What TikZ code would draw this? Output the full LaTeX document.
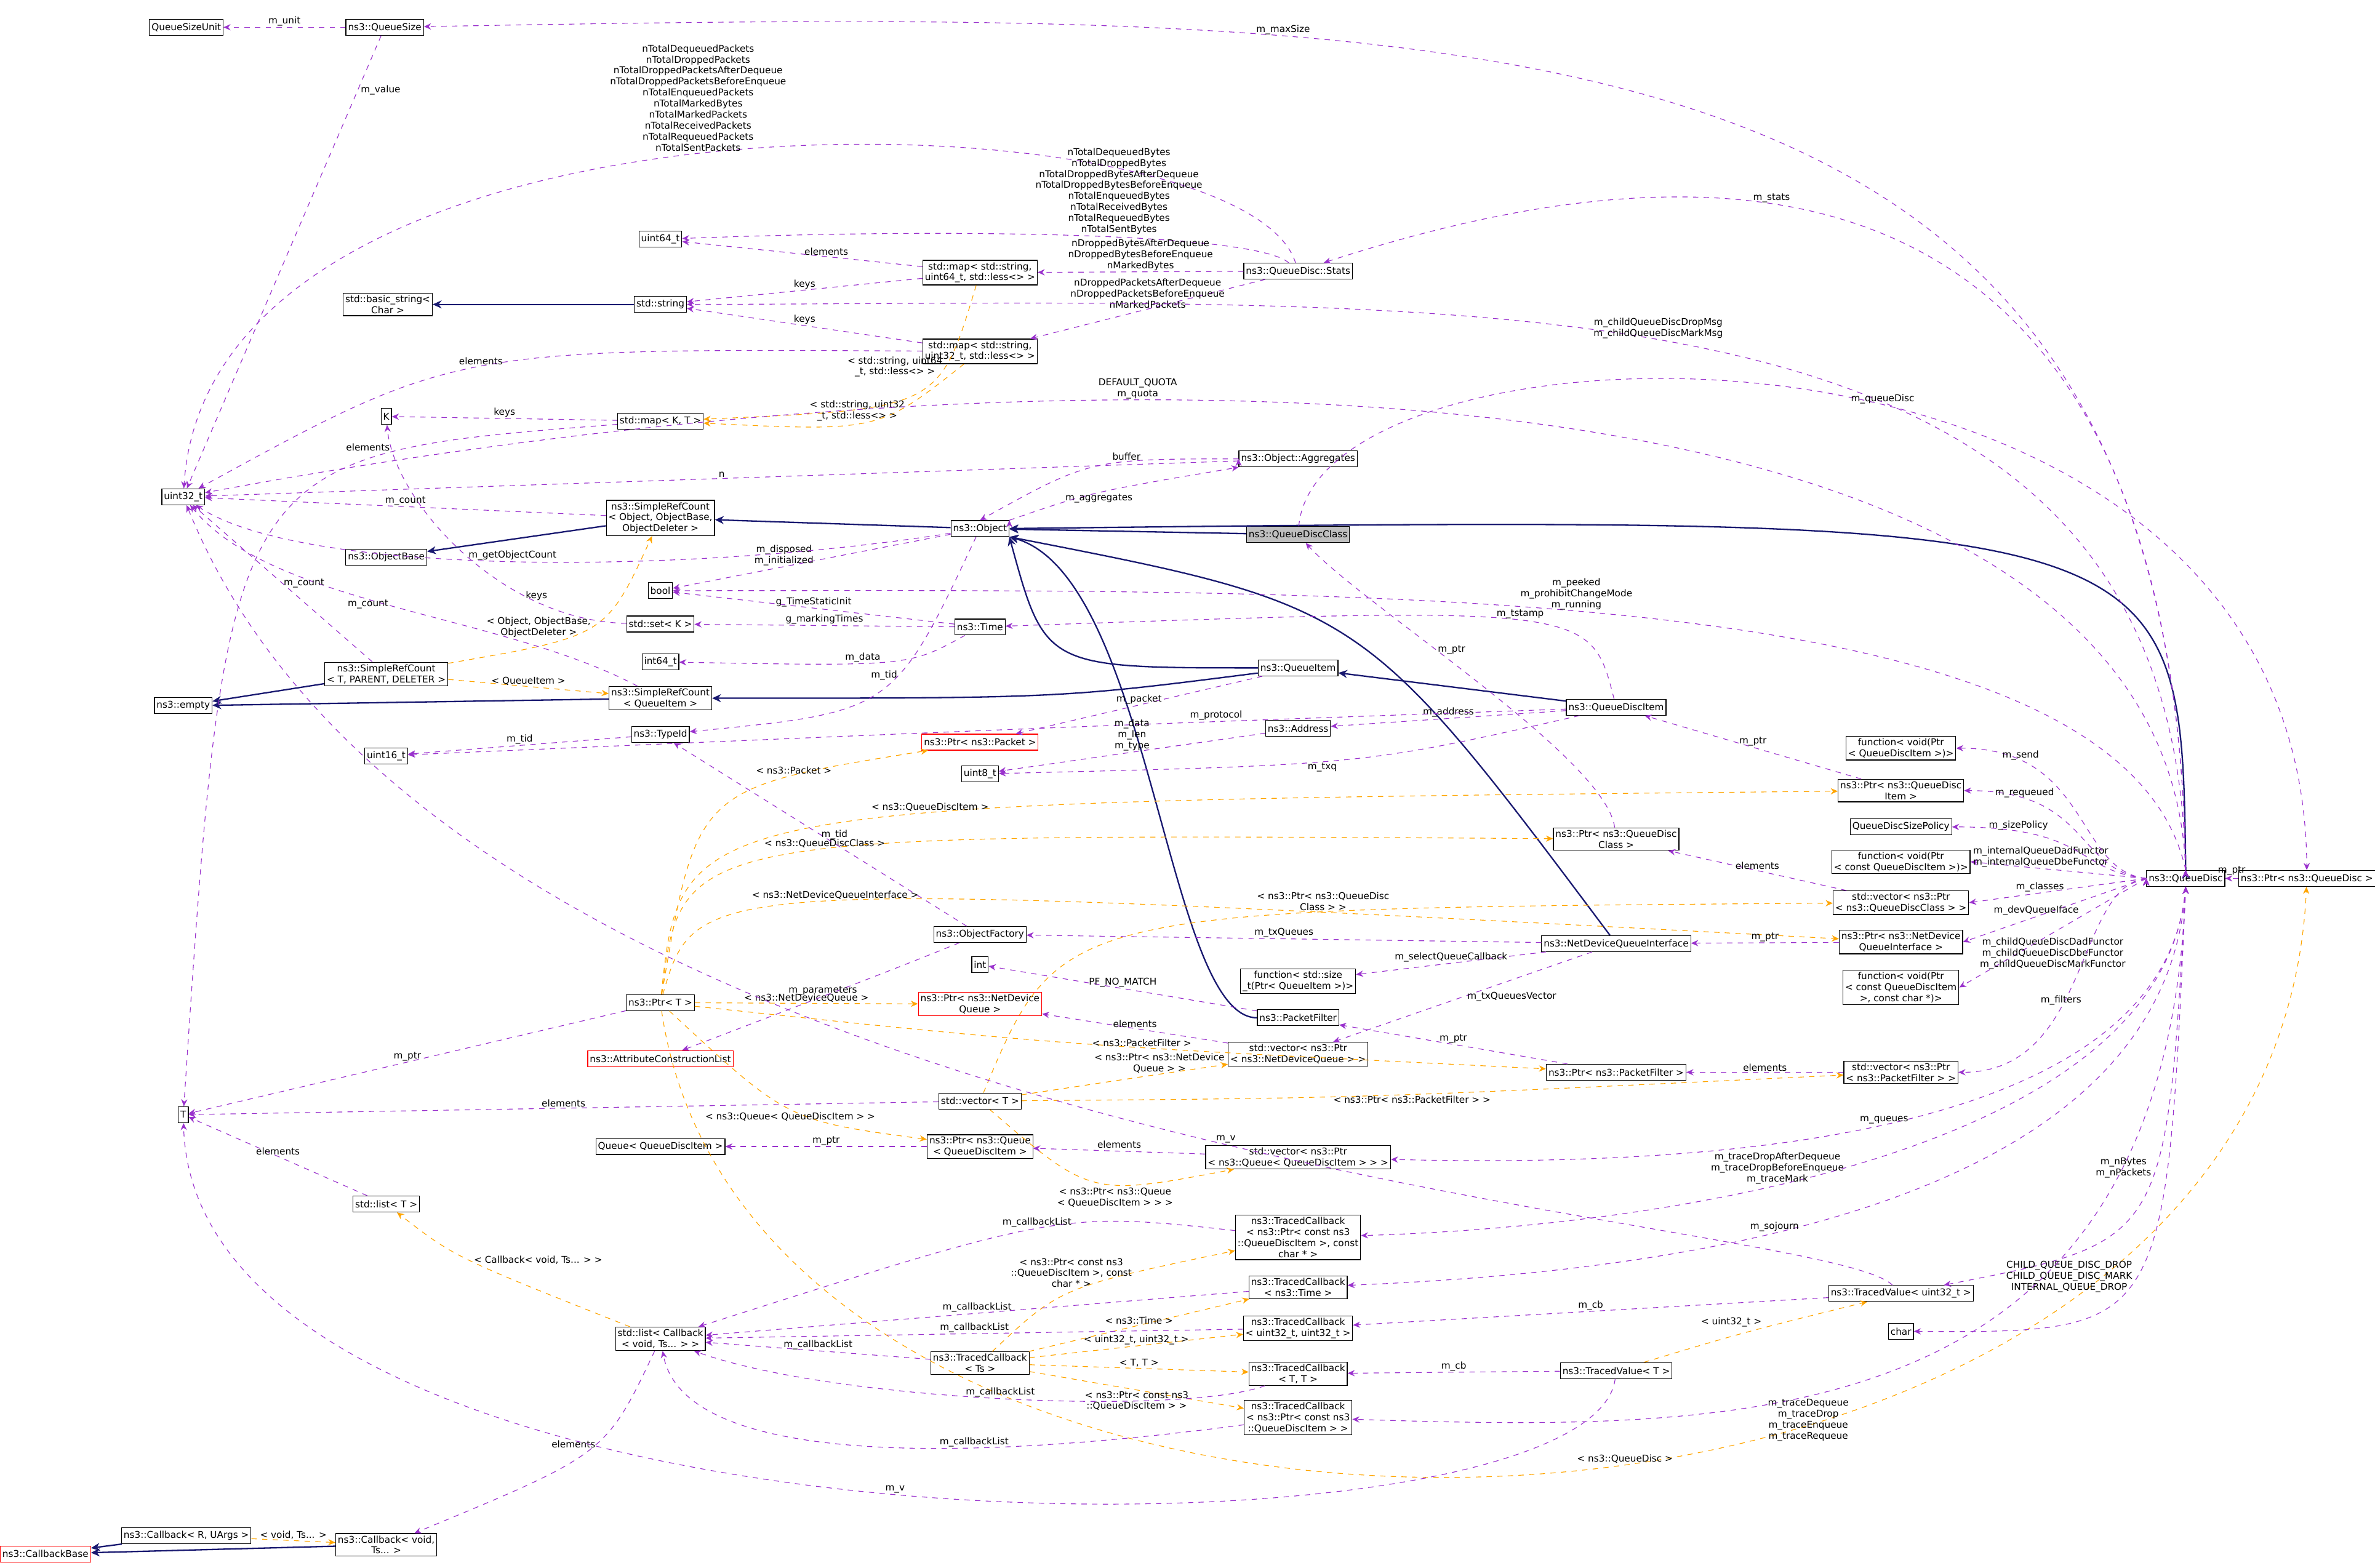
\documentclass[tikz,border=0pt]{standalone}
\usepackage{fontspec}
\setmainfont{DejaVu Sans}
\usetikzlibrary{arrows.meta}
\usetikzlibrary{positioning}
\definecolor{usecol}{HTML}{9A32CD}
\definecolor{tplcol}{HTML}{FFA500}
\definecolor{inhcol}{HTML}{191970}
\tikzset{
  cls/.style={draw=black,rectangle,align=center,inner sep=1.2pt,minimum height=9pt,font=\fontsize{5.3}{6.2}\selectfont,fill=white},
  redcls/.style={cls,draw=red},
  use/.style={draw=usecol,dashed,-{Stealth[length=4pt,width=3.5pt]}},
  tpl/.style={draw=tplcol,dashed,-{Stealth[length=4pt,width=3.5pt]}},
  inh/.style={draw=inhcol,thick,-{Stealth[length=5pt,width=4.5pt]}},
  lbl/.style={align=center,font=\fontsize{5.3}{6.2}\selectfont,inner sep=0.5pt},
  via/.style={to path={.. controls #1 .. (\tikztotarget) \tikztonodes}}
}
\begin{document}
\begin{tikzpicture}[x=0.03cm,y=-0.03cm]
\useasboundingbox (0,0) rectangle (1568,1035);
          \begin{scope}[every node/.style={cls}]
            \node (qsu) at (123,18) {QueueSizeUnit};
            \node (qs) at (254,18) {ns3::QueueSize};
            \node (u64) at (436,158) {uint64\_t};
            \node (bstr) at (256,201) {std::basic\_string\textless\\Char \textgreater};
            \node (str) at (436,201) {std::string};
            \node (m64) at (647,180) {std::map\textless\ std::string,\\uint64\_t, std::less\textless\textgreater\ \textgreater};
            \node (stats) at (857,179) {ns3::QueueDisc::Stats};
            \node (m32) at (647,232) {std::map\textless\ std::string,\\uint32\_t, std::less\textless\textgreater\ \textgreater};
            \node (k) at (255,275) {K};
            \node (mkt) at (436,278) {std::map\textless\ K, T \textgreater};
            \node (aggr) at (857,303) {ns3::Object::Aggregates};
            \node (u32) at (121,328) {uint32\_t};
            \node (srco) at (436,342) {ns3::SimpleRefCount\\\textless\ Object, ObjectBase,\\ObjectDeleter \textgreater};
            \node (obase) at (255,368) {ns3::ObjectBase};
            \node (obj) at (647,349) {ns3::Object};
            \node[fill=black!25] (qdc) at (857,353) {ns3::QueueDiscClass};
            \node (bool) at (436,390) {bool};
            \node (setk) at (436,412) {std::set\textless\ K \textgreater};
            \node (time) at (647,414) {ns3::Time};
            \node (i64) at (436,437) {int64\_t};
            \node (qi) at (857,441) {ns3::QueueItem};
            \node (srct) at (255,445) {ns3::SimpleRefCount\\\textless\ T, PARENT, DELETER \textgreater};
            \node (srcq) at (436,461) {ns3::SimpleRefCount\\\textless\ QueueItem \textgreater};
            \node (empty) at (121,466) {ns3::empty};
            \node (qdi) at (1067,467) {ns3::QueueDiscItem};
            \node (addr) at (857,481) {ns3::Address};
            \node (tid) at (436,485) {ns3::TypeId};
            \node[redcls] (ppkt) at (647,490) {ns3::Ptr\textless\ ns3::Packet \textgreater};
            \node (u16) at (255,499) {uint16\_t};
            \node (u8) at (647,511) {uint8\_t};
            \node (fsend) at (1255,494) {function\textless\ void(Ptr\\\textless\ QueueDiscItem \textgreater)\textgreater};
            \node (pqdi) at (1255,522) {ns3::Ptr\textless\ ns3::QueueDisc\\Item \textgreater};
            \node (qdsp) at (1255,546) {QueueDiscSizePolicy};
            \node (pqdc) at (1067,554) {ns3::Ptr\textless\ ns3::QueueDisc\\Class \textgreater};
            \node (fint) at (1255,569) {function\textless\ void(Ptr\\\textless\ const QueueDiscItem \textgreater)\textgreater};
            \node (vqdc) at (1255,596) {std::vector\textless\ ns3::Ptr\\\textless\ ns3::QueueDiscClass \textgreater\ \textgreater};
            \node (qd) at (1443,580) {ns3::QueueDisc};
            \node (pqd) at (1523,580) {ns3::Ptr\textless\ ns3::QueueDisc \textgreater};
            \node (ofac) at (647,617) {ns3::ObjectFactory};
            \node (ndqi) at (1067,623) {ns3::NetDeviceQueueInterface};
            \node (pndqi) at (1255,622) {ns3::Ptr\textless\ ns3::NetDevice\\QueueInterface \textgreater};
            \node (int) at (647,637) {int};
            \node (fsize) at (857,648) {function\textless\ std::size\\\_t(Ptr\textless\ QueueItem \textgreater)\textgreater};
            \node (fchild) at (1255,652) {function\textless\ void(Ptr\\\textless\ const QueueDiscItem\\\textgreater, const char *)\textgreater};
            \node (ptrt) at (436,662) {ns3::Ptr\textless\ T \textgreater};
            \node[redcls] (pndq) at (647,663) {ns3::Ptr\textless\ ns3::NetDevice\\Queue \textgreater};
            \node (pf) at (857,672) {ns3::PacketFilter};
            \node (vndq) at (857,696) {std::vector\textless\ ns3::Ptr\\\textless\ ns3::NetDeviceQueue \textgreater\ \textgreater};
            \node[redcls] (acl) at (436,699) {ns3::AttributeConstructionList};
            \node (ppf) at (1067,708) {ns3::Ptr\textless\ ns3::PacketFilter \textgreater};
            \node (vpf) at (1255,708) {std::vector\textless\ ns3::Ptr\\\textless\ ns3::PacketFilter \textgreater\ \textgreater};
            \node (vect) at (647,727) {std::vector\textless\ T \textgreater};
            \node (t) at (121,736) {T};
            \node (qq) at (436,757) {Queue\textless\ QueueDiscItem \textgreater};
            \node (pq) at (647,757) {ns3::Ptr\textless\ ns3::Queue\\\textless\ QueueDiscItem \textgreater};
            \node (vq) at (857,764) {std::vector\textless\ ns3::Ptr\\\textless\ ns3::Queue\textless\ QueueDiscItem \textgreater\ \textgreater\ \textgreater};
            \node (listt) at (255,795) {std::list\textless\ T \textgreater};
            \node (tcdrop) at (857,817) {ns3::TracedCallback\\\textless\ ns3::Ptr\textless\ const ns3\\::QueueDiscItem \textgreater, const\\char * \textgreater};
            \node (tctime) at (857,850) {ns3::TracedCallback\\\textless\ ns3::Time \textgreater};
            \node (tvu) at (1255,854) {ns3::TracedValue\textless\ uint32\_t \textgreater};
            \node (tcuu) at (857,877) {ns3::TracedCallback\\\textless\ uint32\_t, uint32\_t \textgreater};
            \node (char) at (1255,879) {char};
            \node (listcb) at (436,884) {std::list\textless\ Callback\\\textless\ void, Ts... \textgreater\ \textgreater};
            \node (tcts) at (647,900) {ns3::TracedCallback\\\textless\ Ts \textgreater};
            \node (tctt) at (857,907) {ns3::TracedCallback\\\textless\ T, T \textgreater};
            \node (tvt) at (1067,905) {ns3::TracedValue\textless\ T \textgreater};
            \node (tcqdi) at (857,936) {ns3::TracedCallback\\\textless\ ns3::Ptr\textless\ const ns3\\::QueueDiscItem \textgreater\ \textgreater};
            \node (cbru) at (123,1014) {ns3::Callback\textless\ R, UArgs \textgreater};
            \node (cbv) at (255,1020) {ns3::Callback\textless\ void,\\Ts... \textgreater};
            \node[redcls] (cbb) at (30,1026) {ns3::CallbackBase};
          \end{scope}
          % inheritance
          \begin{scope}[every path/.style={inh}]
            \path (str) edge (bstr);
            \path (srco) edge (obase);
            \path (obj) edge (srco);
            \path (qdc) edge (obj);
            \path (qd.north) edge[via={(1440,340)}] (obj.east);
            \path (qi) edge[via={(690,441)}] (obj.south east);
            \path (ndqi) edge[via={(900,400)}] (obj.south east);
            \path (pf) edge[via={(770,672) and (760,380)}] (obj.south east);
            \path (qdi) edge (qi);
            \path (qi) edge[via={(700,461)}] (srcq);
            \path (srcq) edge (empty);
            \path (srct) edge (empty);
            \path (cbv) edge (cbb);
            \path (cbru) edge (cbb);
          \end{scope}
          % templates
          \begin{scope}[every path/.style={tpl}]
            \path (m64) edge[via={(620,270)}] node[lbl,pos=0.3,left=1pt] {\textless\ std::string, uint64\\\_t, std::less\textless\textgreater\ \textgreater} (mkt);
            \path (m32) edge[via={(580,285)}] node[lbl,pos=0.55,above=1pt] {\textless\ std::string, uint32\\\_t, std::less\textless\textgreater\ \textgreater} (mkt);
            \path (srct) edge[via={(400,420)}] node[lbl,pos=0.5,left=0pt] {\textless\ Object, ObjectBase,\\ObjectDeleter \textgreater} (srco);
            \path (srct) edge node[lbl,pos=0.5,above=0pt] {\textless\ QueueItem \textgreater} (srcq);
            \path (ptrt) edge[via={(460,520)}] node[lbl,pos=0.75,above=0pt] {\textless\ ns3::Packet \textgreater} (ppkt);
            \path (ptrt) edge[via={(450,530)}] node[lbl,pos=0.6,above=0pt] {\textless\ ns3::QueueDiscItem \textgreater} (pqdi);
            \path (ptrt) edge[via={(450,550)}] node[lbl,pos=0.55,above=0pt] {\textless\ ns3::QueueDiscClass \textgreater} (pqdc);
            \path (ptrt) edge[via={(460,580)}] node[lbl,pos=0.5,above=0pt] {\textless\ ns3::NetDeviceQueueInterface \textgreater} (pndqi);
            \path (ptrt) edge node[lbl,above=0pt] {\textless\ ns3::NetDeviceQueue \textgreater} (pndq);
            \path (ptrt) edge[via={(700,690)}] node[lbl,pos=0.6,above=0pt] {\textless\ ns3::PacketFilter \textgreater} (ppf);
            \path (ptrt) edge[via={(520,740)}] node[lbl,pos=0.5,below=1pt] {\textless\ ns3::Queue\textless\ QueueDiscItem \textgreater\ \textgreater} (pq);
            \path (ptrt) edge[via={(500,1100) and (1500,1080)}] node[lbl,pos=0.55,above=0pt] {\textless\ ns3::QueueDisc \textgreater} (pqd);
            \path (vect) edge[via={(760,710)}] node[lbl,pos=0.6,above=0pt] {\textless\ ns3::Ptr\textless\ ns3::NetDevice\\Queue \textgreater\ \textgreater} (vndq);
            \path (vect) edge[via={(900,725)}] node[lbl,pos=0.55,below=0pt] {\textless\ ns3::Ptr\textless\ ns3::PacketFilter \textgreater\ \textgreater} (vpf);
            \path (vect) edge[via={(700,600)}] node[lbl,pos=0.7,above=0pt] {\textless\ ns3::Ptr\textless\ ns3::QueueDisc\\Class \textgreater\ \textgreater} (vqdc);
            \path (vect) edge[via={(720,790)}] node[lbl,pos=0.6,below=1pt] {\textless\ ns3::Ptr\textless\ ns3::Queue\\\textless\ QueueDiscItem \textgreater\ \textgreater\ \textgreater} (vq);
            \path (listcb) edge[via={(300,830)}] node[lbl,pos=0.5,right=2pt] {\textless\ Callback\textless\ void, Ts... \textgreater\ \textgreater} (listt);
            \path (tcts) edge[via={(700,850)}] node[lbl,pos=0.75,left=0pt] {\textless\ ns3::Ptr\textless\ const ns3\\::QueueDiscItem \textgreater, const\\char * \textgreater} (tcdrop);
            \path (tcts) edge node[lbl,pos=0.5,above=0pt] {\textless\ ns3::Time \textgreater} (tctime);
            \path (tcts) edge node[lbl,pos=0.5,above=0pt] {\textless\ uint32\_t, uint32\_t \textgreater} (tcuu);
            \path (tcts) edge node[lbl,pos=0.5,above=0pt] {\textless\ T, T \textgreater} (tctt);
            \path (tcts) edge node[lbl,pos=0.5,below=0pt] {\textless\ ns3::Ptr\textless\ const ns3\\::QueueDiscItem \textgreater\ \textgreater} (tcqdi);
            \path (tvt) edge[via={(1150,880)}] node[lbl,pos=0.6,above left=0pt] {\textless\ uint32\_t \textgreater} (tvu);
            \path (cbru) edge node[lbl,pos=0.5,above=0pt] {\textless\ void, Ts... \textgreater} (cbv);
          \end{scope}
          % members
          \begin{scope}[every path/.style={use}]
            \path (qs) edge node[lbl,above=0pt] {m\_unit} (qsu);
            \path (qs) edge node[lbl,pos=0.12,right=1pt] {m\_value} (u32);
            \path (qd.north) edge[via={(1435,0) and (1000,5)}] node[lbl,pos=0.7,above=0pt] {m\_maxSize} (qs);
            \path (stats) edge[via={(820,60) and (140,40)}] node[lbl,pos=0.52,above=1pt] {nTotalDequeuedPackets\\nTotalDroppedPackets\\nTotalDroppedPacketsAfterDequeue\\nTotalDroppedPacketsBeforeEnqueue\\nTotalEnqueuedPackets\\nTotalMarkedBytes\\nTotalMarkedPackets\\nTotalReceivedPackets\\nTotalRequeuedPackets\\nTotalSentPackets} (u32);
            \path (stats) edge[via={(830,155) and (650,150)}] node[lbl,pos=0.45,above=1pt] {nTotalDequeuedBytes\\nTotalDroppedBytes\\nTotalDroppedBytesAfterDequeue\\nTotalDroppedBytesBeforeEnqueue\\nTotalEnqueuedBytes\\nTotalReceivedBytes\\nTotalRequeuedBytes\\nTotalSentBytes} (u64);
            \path (m64) edge node[lbl,pos=0.4,above=0pt] {elements} (u64);
            \path (m64) edge node[lbl,pos=0.5,above=0pt] {keys} (str);
            \path (stats) edge node[lbl,pos=0.5,above=0pt] {nDroppedBytesAfterDequeue\\nDroppedBytesBeforeEnqueue\\nMarkedBytes} (m64);
            \path (stats) edge node[lbl,pos=0.5,above=0pt] {nDroppedPacketsAfterDequeue\\nDroppedPacketsBeforeEnqueue\\nMarkedPackets} (m32);
            \path (m32) edge node[lbl,pos=0.5,above=0pt] {keys} (str);
            \path (m32) edge[via={(300,230)}] node[lbl,pos=0.5,above=0pt] {elements} (u32);
            \path (mkt) edge node[lbl,above=0pt] {keys} (k);
            \path (mkt) edge[via={(150,300)}] node[lbl,pos=0.25,above left=0pt] {elements} (t);
            \path (qd.north) edge[via={(1435,60) and (1100,100)}] node[lbl,pos=0.6,above=0pt] {m\_stats} (stats);
            \path (qd.north) edge[via={(1435,170) and (1000,200)}] node[lbl,pos=0.55,above=0pt] {m\_childQueueDiscDropMsg\\m\_childQueueDiscMarkMsg} (str);
            \path (qd.north) edge[via={(1430,220) and (700,220)}] node[lbl,pos=0.65,above=0pt] {DEFAULT\_QUOTA\\m\_quota} (u32);
            \path (aggr) edge node[lbl,pos=0.5,above=0pt] {n} (u32);
            \path (aggr.west) edge[via={(720,303)}] node[lbl,pos=0.35,above=0pt] {buffer} (obj.north);
            \path (obj.north east) edge[via={(720,325)}] node[lbl,pos=0.5,below=0pt] {m\_aggregates} (aggr.south west);
            \path (srco) edge node[lbl,pos=0.5,above=0pt] {m\_count} (u32);
            \path (obj) edge node[lbl,pos=0.6,above=0pt] {m\_disposed\\m\_initialized} (bool);
            \path (obj) edge[via={(450,380) and (200,380)}] node[lbl,pos=0.5,above=0pt] {m\_getObjectCount} (u32);
            \path (qdc) edge[via={(870,200) and (1520,180)}] node[lbl,pos=0.55,above=0pt] {m\_queueDisc} (pqd);
            \path (obj) edge[via={(590,470)}] node[lbl,pos=0.4,left=0pt] {m\_tid} (tid);
            \path (setk) edge[via={(330,410) and (260,330)}] node[lbl,pos=0.25,above=0pt] {keys} (k);
            \path (srcq) edge[via={(330,405) and (180,400)}] node[lbl,pos=0.55,below=0pt] {m\_count} (u32);
            \path (srct) edge node[lbl,pos=0.5,right=0pt] {m\_count} (u32);
            \path (time) edge node[lbl,pos=0.5,above=0pt] {g\_TimeStaticInit} (bool);
            \path (time) edge node[lbl,pos=0.5,above=0pt] {g\_markingTimes} (setk);
            \path (time) edge[via={(600,440)}] node[lbl,pos=0.6,above=0pt] {m\_data} (i64);
            \path (qdi) edge[via={(1050,400)}] node[lbl,pos=0.5,above=0pt] {m\_tstamp} (time);
            \path (qd.north) edge[via={(1400,380) and (900,390)}] node[lbl,pos=0.55,above=0pt] {m\_peeked\\m\_prohibitChangeMode\\m\_running} (bool);
            \path (qi) edge node[lbl,pos=0.5,above=0pt] {m\_packet} (ppkt);
            \path (qdi) edge node[lbl,pos=0.5,above=0pt] {m\_address} (addr);
            \path (qdi) edge[via={(700,480)}] node[lbl,pos=0.3,above=0pt] {m\_protocol} (u16);
            \path (qdi) edge[via={(900,505)}] node[lbl,pos=0.55,below=0pt] {m\_txq} (u8);
            \path (addr) edge node[lbl,pos=0.5,above=0pt] {m\_data\\m\_len\\m\_type} (u8);
            \path (tid) edge node[lbl,pos=0.5,above=0pt] {m\_tid} (u16);
            \path (pqdc) edge[via={(1060,500) and (900,400)}] node[lbl,pos=0.6,right=0pt] {m\_ptr} (qdc);
            \path (pqdi) edge node[lbl,pos=0.5,above=0pt] {m\_ptr} (qdi);
            \path (ptrt) edge node[lbl,pos=0.5,above=0pt] {m\_ptr} (t);
            \path (ofac) edge node[lbl,pos=0.5,right=0pt] {m\_tid} (tid);
            \path (ofac) edge[via={(590,640)}] node[lbl,pos=0.7,above=0pt] {m\_parameters} (acl);
            \path (ndqi) edge node[lbl,pos=0.5,above=0pt] {m\_txQueues} (ofac);
            \path (ndqi) edge node[lbl,pos=0.5,above=0pt] {m\_selectQueueCallback} (fsize);
            \path (ndqi) edge node[lbl,pos=0.5,right=2pt] {m\_txQueuesVector} (vndq);
            \path (pf) edge node[lbl,pos=0.5,above=0pt] {PF\_NO\_MATCH} (int);
            \path (vndq) edge node[lbl,pos=0.5,above=0pt] {elements} (pndq);
            \path (vect) edge node[lbl,pos=0.5,above=0pt] {elements} (t);
            \path (ppf) edge node[lbl,pos=0.5,above=0pt] {m\_ptr} (pf);
            \path (vpf) edge node[lbl,pos=0.5,above=0pt] {elements} (ppf);
            \path (vqdc) edge node[lbl,pos=0.5,above=0pt] {elements} (pqdc);
            \path (pndqi) edge node[lbl,pos=0.5,above=0pt] {m\_ptr} (ndqi);
            \path (qd.west) edge node[lbl,pos=0.6,above=0pt] {m\_devQueueIface} (pndqi.east);
            \path (qd.west) edge node[lbl,pos=0.6,above=0pt] {m\_classes} (vqdc.east);
            \path (qd.west) edge node[lbl,pos=0.6,above=0pt] {m\_internalQueueDadFunctor\\m\_internalQueueDbeFunctor} (fint.east);
            \path (qd.west) edge[via={(1370,575) and (1380,546)}] node[lbl,pos=0.8,above=0pt] {m\_sizePolicy} (qdsp.east);
            \path (qd.west) edge[via={(1370,575) and (1380,522)}] node[lbl,pos=0.8,above=0pt] {m\_requeued} (pqdi.east);
            \path (qd.west) edge[via={(1370,575) and (1380,494)}] node[lbl,pos=0.8,above=0pt] {m\_send} (fsend.east);
            \path (qd.west) edge node[lbl,pos=0.5,below=2pt] {m\_childQueueDiscDadFunctor\\m\_childQueueDiscDbeFunctor\\m\_childQueueDiscMarkFunctor} (fchild.east);
            \path (qd.west) edge[via={(1370,585) and (1380,708)}] node[lbl,pos=0.6,above=0pt] {m\_filters} (vpf.east);
            \path (qd.south) edge[via={(1430,760) and (1100,770)}] node[lbl,pos=0.5,above=0pt] {m\_queues} (vq);
            \path (vq) edge node[lbl,pos=0.5,above=1pt] {elements} (pq);
            \path (pq) edge node[lbl,pos=0.5,above=0pt] {m\_ptr} (qq);
            \path (pqd) edge node[lbl,pos=0.5,above=1pt] {m\_ptr} (qd);
            \path (qd.south) edge[via={(1430,760) and (1100,810)}] node[lbl,pos=0.6,above=0pt] {m\_traceDropAfterDequeue\\m\_traceDropBeforeEnqueue\\m\_traceMark} (tcdrop);
            \path (qd.south) edge[via={(1430,800) and (1100,840)}] node[lbl,pos=0.6,above=0pt] {m\_sojourn} (tctime);
            \path (qd.south) edge[via={(1430,820)}] node[lbl,pos=0.4,left=2pt] {m\_nBytes\\m\_nPackets} (tvu);
            \path (qd.south) edge[via={(1430,880)}] node[lbl,pos=0.5,left=2pt] {CHILD\_QUEUE\_DISC\_DROP\\CHILD\_QUEUE\_DISC\_MARK\\INTERNAL\_QUEUE\_DROP} (char);
            \path (qd.south) edge[via={(1430,950) and (1150,945)}] node[lbl,pos=0.6,below=1pt] {m\_traceDequeue\\m\_traceDrop\\m\_traceEnqueue\\m\_traceRequeue} (tcqdi);
            \path (tvu) edge[via={(1200,800) and (300,770)}] node[lbl,pos=0.45,above=0pt] {m\_v} (u32);
            \path (tvu) edge node[lbl,pos=0.5,above=0pt] {m\_cb} (tcuu);
            \path (tvt) edge node[lbl,pos=0.5,above=0pt] {m\_cb} (tctt);
            \path (tvt) edge[via={(1050,1040) and (130,1040)}] node[lbl,pos=0.5,above=0pt] {m\_v} (t);
            \path (tcdrop) edge[via={(700,800)}] node[lbl,pos=0.5,above=0pt] {m\_callbackList} (listcb);
            \path (tctime) edge node[lbl,pos=0.5,above=0pt] {m\_callbackList} (listcb);
            \path (tcuu) edge node[lbl,pos=0.5,above=0pt] {m\_callbackList} (listcb);
            \path (tcts) edge node[lbl,pos=0.5,above=0pt] {m\_callbackList} (listcb);
            \path (tctt) edge[via={(780,935) and (550,925)}] node[lbl,pos=0.5,above=0pt] {m\_callbackList} (listcb);
            \path (tcqdi) edge[via={(600,970) and (450,960)}] node[lbl,pos=0.3,above=0pt] {m\_callbackList} (listcb);
            \path (listt) edge node[lbl,pos=0.5,above=0pt] {elements} (t);
            \path (listcb) edge[via={(400,960)}] node[lbl,pos=0.45,left=0pt] {elements} (cbv);
          \end{scope}
\end{tikzpicture}
\end{document}
